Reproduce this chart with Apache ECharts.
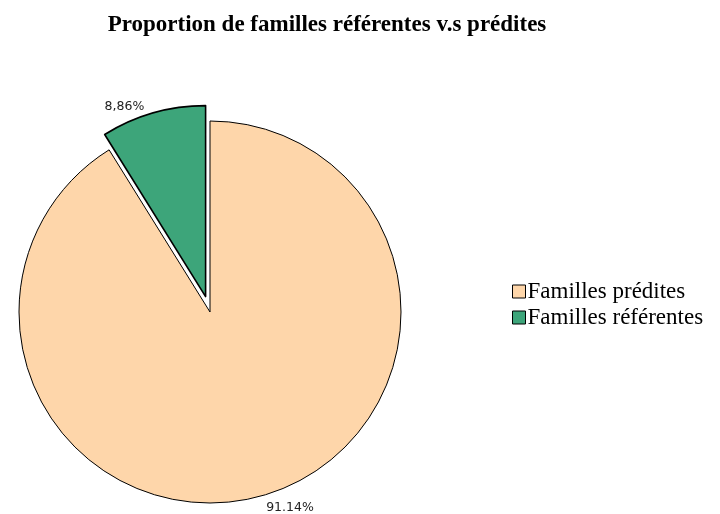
<!DOCTYPE html>
<html>
<head>
<meta charset="utf-8">
<script src="https://cdn.jsdelivr.net/npm/echarts@6/dist/echarts.min.js"></script>
<style>
html, body { margin: 0; padding: 0; background: #fff; }
#main { width: 720px; height: 514px; }
</style>
</head>
<body>
<div id="main"></div>
<script>
// données du graphique
var categories = ['Familles prédites', 'Familles référentes'];
var values = [91.14, 8.86];
var pctLabels = ['91.14%', '8,86%'];
var colors = ['#FED6AA', '#3DA57A'];

var myChart = echarts.init(document.getElementById('main'));

var pieData = [];
for (var i = 0; i < categories.length; i++) {
	pieData.push({
		name: categories[i],
		value: values[i],
		selected: i == 1,
		itemStyle: {
			color: colors[i],
			borderColor: '#000',
			borderWidth: i == 1 ? 1.6 : 1
		},
		// décalage du texte vers la gauche pour le secteur détaché
		label: i == 1 ? { padding: [0, 44, 0, 0] } : {}
	});
}

var option = {
	animation: false,
	title: {
		text: 'Proportion de familles référentes v.s prédites',
		left: 322,
		textAlign: 'center',
		top: 9,
		textStyle: {
			fontFamily: 'Liberation Serif',
			fontWeight: 'bold',
			fontSize: 23,
			color: '#000'
		}
	},
	legend: {
		orient: 'vertical',
		left: 507,
		top: 275,
		icon: 'rect',
		itemWidth: 13,
		itemHeight: 13,
		itemGap: 3,
		selectedMode: false,
		itemStyle: { borderColor: '#000', borderWidth: 1 },
		textStyle: {
			fontFamily: 'Liberation Serif',
			fontSize: 23,
			color: '#000',
			padding: [0, 0, 0, -3]
		},
		data: categories
	},
	series: [{
		type: 'pie',
		center: [210, 312],
		radius: 191,
		startAngle: 90,
		clockwise: true,
		avoidLabelOverlap: false,
		selectedMode: 'single',
		selectedOffset: 16,
		label: {
			show: true,
			position: 'outside',
			fontFamily: 'DejaVu Sans',
			fontSize: 12.5,
			color: '#222',
			formatter: function (p) {
				return pctLabels[p.dataIndex];
			}
		},
		labelLine: { show: false, length: 6, length2: 0 },
		labelLayout: function (p) {
			if (p.dataIndex == 0) {
				return { x: 290, y: 508, align: 'center', verticalAlign: 'middle' };
			}
			return { x: 124, y: 103, align: 'center', verticalAlign: 'middle' };
		},
		emphasis: { disabled: true },
		data: pieData
	}]
};
myChart.setOption(option);
</script>
</body>
</html>
